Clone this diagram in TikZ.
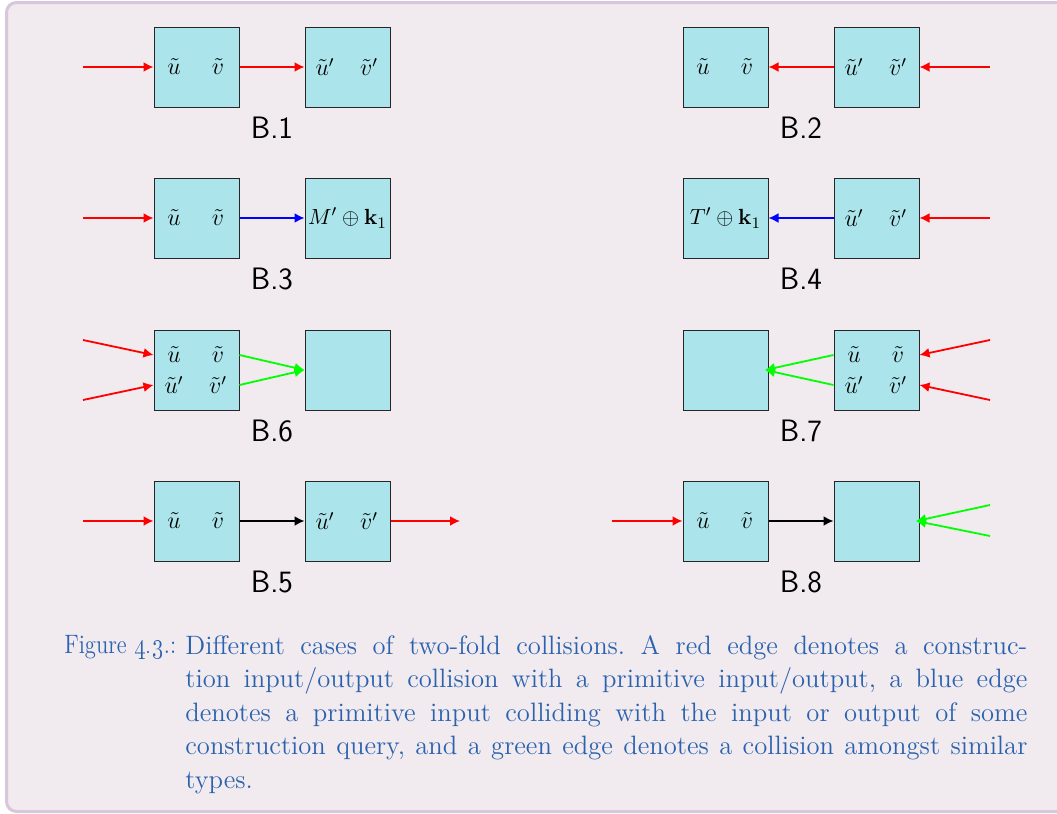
\documentclass[tikz,border=0pt]{standalone}
\usetikzlibrary{arrows.meta}
\definecolor{bgc}{HTML}{F1EAEF}
\definecolor{frc}{HTML}{D8C6DA}
\definecolor{boxc}{HTML}{ABE5EB}
\definecolor{capc}{HTML}{2A62AE}
\tikzset{
  blk/.style={draw=black!85, line width=0.5pt, fill=boxc, minimum width=42.5pt, minimum height=40pt, inner sep=0pt},
  lbl/.style={font=\fontsize{11.5}{13}\selectfont, inner sep=0pt},
  tag/.style={font=\sffamily\fontsize{15.5}{18}\selectfont, inner sep=0pt},
  arr/.style={line width=0.9pt, -{Latex[length=5pt,width=5pt]}},
  captxt/.style={font=\fontsize{13.3}{16.75}\selectfont\frenchspacing, text=capc, inner sep=0pt, anchor=north west}
}
\begin{document}
\begin{tikzpicture}[x=0.5pt,y=-0.5pt]
\useasboundingbox (0,0) rectangle (1057,814);
\begin{scope}
\clip (0,0) rectangle (1057,814);
\draw[frc, line width=1.5pt, fill=bgc, rounded corners=5pt] (6.5,2.5) rectangle (1075,811.5);
\end{scope}

% ---------- B.1 ----------
\node[blk] (b1a) at (196.5,67) {};
\node[blk] (b1b) at (347.5,67) {};
\node[lbl] (b1u) at (174,67) {$\tilde{u}$};
\node[lbl] (b1v) at (218,67) {$\tilde{v}$};
\node[lbl] (b1up) at (325,67) {$\tilde{u}'$};
\node[lbl] (b1vp) at (369,67) {$\tilde{v}'$};
\coordinate (b1in) at (83,67);
\draw[arr,red] (b1in) -- (b1a.west);
\draw[arr,red] (b1a.east) -- (b1b.west);
\node[tag] (t1) at (272,128) {B.1};

% ---------- B.2 ----------
\node[blk] (b2a) at (725.5,67) {};
\node[blk] (b2b) at (876.5,67) {};
\node[lbl] (b2u) at (703,67) {$\tilde{u}$};
\node[lbl] (b2v) at (747,67) {$\tilde{v}$};
\node[lbl] (b2up) at (854,67) {$\tilde{u}'$};
\node[lbl] (b2vp) at (898,67) {$\tilde{v}'$};
\coordinate (b2in) at (990,67);
\draw[arr,red] (b2in) -- (b2b.east);
\draw[arr,red] (b2b.west) -- (b2a.east);
\node[tag] (t2) at (801,128) {B.2};

% ---------- B.3 ----------
\node[blk] (b3a) at (196.5,218) {};
\node[blk] (b3b) at (347.5,218) {};
\node[lbl] (b3u) at (174,218) {$\tilde{u}$};
\node[lbl] (b3v) at (218,218) {$\tilde{v}$};
\node[lbl, font=\fontsize{11}{13}\selectfont] (b3m) at (347.5,218) {$M'\oplus\mathbf{k}_1$};
\coordinate (b3in) at (83,218);
\draw[arr,red] (b3in) -- (b3a.west);
\draw[arr,blue] (b3a.east) -- (b3b.west);
\node[tag] (t3) at (272,279) {B.3};

% ---------- B.4 ----------
\node[blk] (b4a) at (725.5,218) {};
\node[blk] (b4b) at (876.5,218) {};
\node[lbl, font=\fontsize{11}{13}\selectfont] (b4t) at (725.5,218) {$T'\oplus\mathbf{k}_1$};
\node[lbl] (b4up) at (854,218) {$\tilde{u}'$};
\node[lbl] (b4vp) at (898,218) {$\tilde{v}'$};
\coordinate (b4in) at (990,218);
\draw[arr,red] (b4in) -- (b4b.east);
\draw[arr,blue] (b4b.west) -- (b4a.east);
\node[tag] (t4) at (801,279) {B.4};

% ---------- B.6 ----------
\node[blk] (b6a) at (196.5,370) {};
\node[blk] (b6b) at (347.5,370) {};
\node[lbl] (b6u) at (174,355) {$\tilde{u}$};
\node[lbl] (b6v) at (218,355) {$\tilde{v}$};
\node[lbl] (b6up) at (174,385) {$\tilde{u}'$};
\node[lbl] (b6vp) at (218,385) {$\tilde{v}'$};
\coordinate (b6i1) at (83,340);
\coordinate (b6i2) at (83,400);
\draw[arr,red] (b6i1) -- (b6a.west |- b6u);
\draw[arr,red] (b6i2) -- (b6a.west |- b6up);
\draw[arr,green] (b6a.east |- b6v) -- (b6b.west);
\draw[arr,green] (b6a.east |- b6vp) -- (b6b.west);
\node[tag] (t6) at (272,431) {B.6};

% ---------- B.7 ----------
\node[blk] (b7a) at (725.5,370) {};
\node[blk] (b7b) at (876.5,370) {};
\node[lbl] (b7u) at (854,355) {$\tilde{u}$};
\node[lbl] (b7v) at (898,355) {$\tilde{v}$};
\node[lbl] (b7up) at (854,385) {$\tilde{u}'$};
\node[lbl] (b7vp) at (898,385) {$\tilde{v}'$};
\coordinate (b7t) at (765,370);
\coordinate (b7i1) at (990,340);
\coordinate (b7i2) at (990,400);
\draw[arr,red] (b7i1) -- (b7b.east |- b7v);
\draw[arr,red] (b7i2) -- (b7b.east |- b7vp);
\draw[arr,green] (b7b.west |- b7u) -- (b7t);
\draw[arr,green] (b7b.west |- b7up) -- (b7t);
\node[tag] (t7) at (801,431) {B.7};

% ---------- B.5 ----------
\node[blk] (b5a) at (196.5,521) {};
\node[blk] (b5b) at (347.5,521) {};
\node[lbl] (b5u) at (174,521) {$\tilde{u}$};
\node[lbl] (b5v) at (218,521) {$\tilde{v}$};
\node[lbl] (b5up) at (325,521) {$\tilde{u}'$};
\node[lbl] (b5vp) at (369,521) {$\tilde{v}'$};
\coordinate (b5in) at (83,521);
\coordinate (b5out) at (460,521);
\draw[arr,red] (b5in) -- (b5a.west);
\draw[arr,black] (b5a.east) -- (b5b.west);
\draw[arr,red] (b5b.east) -- (b5out);
\node[tag] (t5) at (272,582) {B.5};

% ---------- B.8 ----------
\node[blk] (b8a) at (725.5,521) {};
\node[blk] (b8b) at (876.5,521) {};
\node[lbl] (b8u) at (703,521) {$\tilde{u}$};
\node[lbl] (b8v) at (747,521) {$\tilde{v}$};
\coordinate (b8in) at (612,521);
\coordinate (b8t) at (916,521);
\coordinate (b8g1) at (990,505);
\coordinate (b8g2) at (990,536);
\draw[arr,red] (b8in) -- (b8a.west);
\draw[arr,black] (b8a.east) -- (b8b.west);
\draw[arr,green] (b8g1) -- (b8t);
\draw[arr,green] (b8g2) -- (b8t);
\node[tag] (t8) at (801,582) {B.8};

% ---------- caption ----------
\node[captxt, xscale=0.85, transform shape] (capl) at (64,635) {Figure~\oldstylenums{4.3}.:};
\node[captxt, text width=421pt, align=justify] (capb) at (185,635) {Different cases of two-fold collisions. A red edge denotes a construc-\linebreak
tion input/output collision with a primitive input/output, a blue edge\linebreak
denotes a primitive input colliding with the input or output of some\linebreak
construction query, and a green edge denotes a collision amongst similar\linebreak
types.};
\end{tikzpicture}
\end{document}
